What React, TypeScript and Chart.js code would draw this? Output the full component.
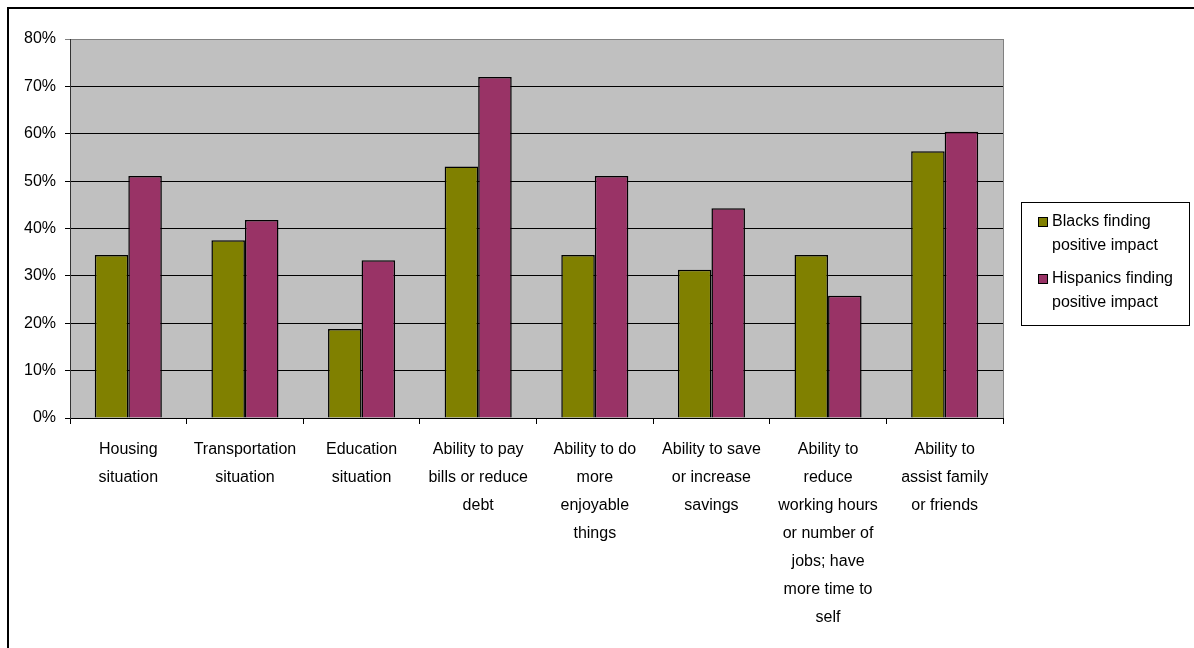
import { useEffect, useRef } from "react";
import { Chart, registerables } from "chart.js";

Chart.register(...registerables);

// Category labels, one array of lines per category
const categories: string[][] = [
  ["Housing", "situation"],
  ["Transportation", "situation"],
  ["Education", "situation"],
  ["Ability to pay", "bills or reduce", "debt"],
  ["Ability to do", "more", "enjoyable", "things"],
  ["Ability to save", "or increase", "savings"],
  ["Ability to", "reduce", "working hours", "or number of", "jobs; have", "more time to", "self"],
  ["Ability to", "assist family", "or friends"],
];

// Share of respondents (%) reporting a positive impact
const blacks: number[] = [34.4, 37.5, 18.8, 53.1, 34.4, 31.3, 34.4, 56.3];
const hispanics: number[] = [51.1, 41.8, 33.3, 72.0, 51.1, 44.3, 25.8, 60.4];

const seriesLines: string[][] = [
  ["Blacks finding", "positive impact"],
  ["Hispanics finding", "positive impact"],
];
const seriesColors: string[] = ["#808000", "#993366"];

const yTicks: number[] = [0, 10, 20, 30, 40, 50, 60, 70, 80];

const FONT = "Arial, 'Liberation Sans', sans-serif";

// Grey plot background, grey right edge, outer frame and the boxed legend
const decorPlugin = {
  id: "decor",
  beforeDraw(chart: any) {
    const { ctx, chartArea } = chart;
    ctx.save();
    ctx.fillStyle = "#ffffff";
    ctx.fillRect(0, 0, chart.width, chart.height);
    ctx.fillStyle = "#C0C0C0";
    ctx.fillRect(chartArea.left, chartArea.top, chartArea.right - chartArea.left, chartArea.bottom - chartArea.top);
    ctx.restore();
  },
  beforeDatasetsDraw(chart: any) {
    const { ctx, chartArea } = chart;
    ctx.save();
    ctx.strokeStyle = "#808080";
    ctx.lineWidth = 1;
    ctx.beginPath();
    ctx.moveTo(chartArea.right + 0.5, chartArea.top);
    ctx.lineTo(chartArea.right + 0.5, chartArea.bottom);
    ctx.stroke();
    ctx.restore();
  },
  afterDraw(chart: any) {
    const { ctx } = chart;
    ctx.save();
    // outer frame (top and left edges)
    ctx.fillStyle = "#000000";
    ctx.fillRect(7, 7, 2, chart.height - 7);
    ctx.fillRect(7, 7, chart.width - 7, 2);

    // legend box
    const bx = 1021, by = 202, bw = 168, bh = 123;
    ctx.fillStyle = "#ffffff";
    ctx.fillRect(bx, by, bw, bh);
    ctx.strokeStyle = "#000000";
    ctx.lineWidth = 1;
    ctx.strokeRect(bx + 0.5, by + 0.5, bw, bh);

    ctx.font = `16px ${FONT}`;
    ctx.textBaseline = "middle";
    ctx.textAlign = "left";
    chart.data.datasets.forEach((ds: any, i: number) => {
      const y0 = 222 + i * 57;
      ctx.fillStyle = ds.backgroundColor;
      ctx.fillRect(1038, y0 - 4.5, 9, 9);
      ctx.strokeStyle = "#000000";
      ctx.strokeRect(1038.5, y0 - 4.5, 9, 9);
      ctx.fillStyle = "#000000";
      seriesLines[i].forEach((line, j) => {
        ctx.fillText(line, 1052, y0 + j * 24);
      });
    });
    ctx.restore();
  },
};

export default function App() {
  const canvasRef = useRef<HTMLCanvasElement | null>(null);

  useEffect(() => {
    if (!canvasRef.current) return;
    Chart.defaults.font.family = FONT;
    Chart.defaults.color = "#000000";

    const chart = new Chart(canvasRef.current, {
      type: "bar",
      data: {
        labels: categories,
        datasets: [
          {
            label: seriesLines[0].join(" "),
            data: blacks,
            backgroundColor: seriesColors[0],
            borderColor: "#000000",
            borderWidth: 1.5,
            categoryPercentage: 0.575,
            barPercentage: 1,
          },
          {
            label: seriesLines[1].join(" "),
            data: hispanics,
            backgroundColor: seriesColors[1],
            borderColor: "#000000",
            borderWidth: 1.5,
            categoryPercentage: 0.575,
            barPercentage: 1,
          },
        ],
      },
      options: {
        responsive: false,
        animation: false,
        layout: { padding: { left: 8, top: 39, right: 191, bottom: 0 } },
        plugins: {
          legend: { display: false },
          tooltip: { enabled: false },
        },
        scales: {
          x: {
            afterFit(scale: any) {
              scale.height = 230;
            },
            grid: {
              drawOnChartArea: false,
              offset: true,
              tickLength: 6,
              color: "#000000",
            },
            border: { color: "#000000", width: 1 },
            ticks: {
              autoSkip: false,
              maxRotation: 0,
              padding: 12,
              color: "#000000",
              font: { size: 16, lineHeight: 1.75 },
            },
          },
          y: {
            min: 0,
            max: 80,
            afterFit(scale: any) {
              scale.width = 62;
            },
            afterBuildTicks(scale: any) {
              scale.ticks = yTicks.map((v) => ({ value: v }));
            },
            grid: {
              color: (c: any) => (c.tick && c.tick.value === 80 ? "#808080" : "#000000"),
              tickLength: 5,
            },
            border: { color: "#333333", width: 1 },
            ticks: {
              padding: 9,
              color: "#000000",
              font: { size: 16 },
              callback: (v: any) => `${v}%`,
            },
          },
        },
      },
      plugins: [decorPlugin],
    });

    return () => chart.destroy();
  }, []);

  return (
    <div style={{ position: "fixed", left: 0, top: 0, width: 1194, height: 648, background: "#fff" }}>
      <canvas ref={canvasRef} width={1194} height={648} style={{ display: "block" }} />
    </div>
  );
}
